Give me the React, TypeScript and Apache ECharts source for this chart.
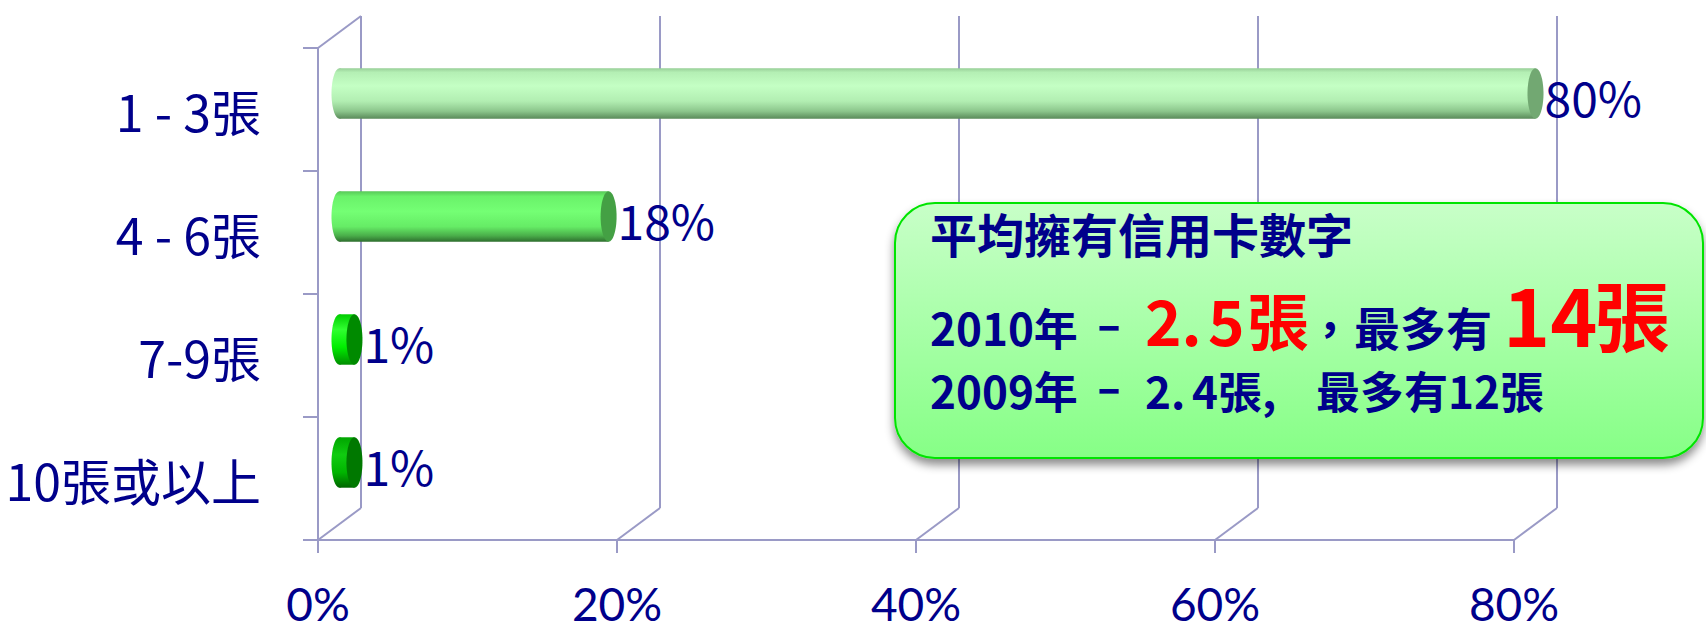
import React, { useEffect, useRef } from "react";
import * as echarts from "echarts";

// ---- data ----
const categories = ["1 - 3張", "4 - 6張", "7-9張", "10張或以上"];
const shares = [80, 18, 1, 1];
const xTicks = [0, 20, 40, 60, 80];
const noteTitle = "平均擁有信用卡數字";
const noteYears = ["2010", "2009"];
const noteAverage = ["2.5", "2.4"];
const noteMaximum = ["14", "12"];

// ---- styles ----
const FONT = '"Noto Sans CJK TC", "Noto Sans", sans-serif';
const NAVY = "#00008b";
const RED = "#ff0000";
const AXIS = "#9a9ac6";
const DX = 43;
const DY = -32;
const BAR_STYLES = [
  {
    stops: [
      [0, "#98cf98"], [0.08, "#b4efb4"], [0.35, "#c4ffc4"], [0.65, "#b2eeb2"], [0.85, "#8cc68c"], [1, "#5a8a5a"],
    ],
    cap: "#72a872",
  },
  {
    stops: [
      [0, "#58c858"], [0.1, "#6af26a"], [0.4, "#74ff74"], [0.7, "#66ec66"], [0.88, "#4aae4a"], [1, "#2e6e2e"],
    ],
    cap: "#44a044",
  },
  {
    stops: [[0, "#00cc00"], [0.3, "#30ff30"], [0.65, "#00ee00"], [1, "#008c00"]],
    cap: "#008a00",
  },
  {
    stops: [[0, "#00a400"], [0.35, "#10cc10"], [0.7, "#00b400"], [1, "#006400"]],
    cap: "#007800",
  },
];

function renderFrame(params: any, api: any) {
  const v = api.value(0);
  const cs = params.coordSys;
  const px = api.coord([v, 0])[0];
  const top = cs.y;
  const bottom = cs.y + cs.height;
  const style = { stroke: AXIS, lineWidth: 2, fill: "none" };
  const children: any[] = [
    { type: "line", shape: { x1: px + DX, y1: top + DY, x2: px + DX, y2: bottom + DY }, style },
    { type: "line", shape: { x1: px + DX, y1: bottom + DY, x2: px, y2: bottom }, style },
  ];
  if (v === 0) {
    children.push({ type: "line", shape: { x1: px, y1: top, x2: px + DX, y2: top + DY }, style });
  }
  return { type: "group", children };
}

function renderBar(params: any, api: any) {
  const idx = params.dataIndex;
  const val = api.value(0);
  const cat = api.value(1);
  const p0 = api.coord([0, cat]);
  const p1 = api.coord([val, cat]);
  const band = api.size([0, 1])[1];
  const h = band * 0.41;
  const cy = p0[1] + DY / 2;
  const x0 = p0[0] + DX / 2;
  const x1 = p1[0] + DX / 2;
  const rx = 8;
  const pal = BAR_STYLES[idx % BAR_STYLES.length];
  const grad = () =>
    new echarts.graphic.LinearGradient(
      0, 0, 0, 1,
      pal.stops.map((s: any) => ({ offset: s[0], color: s[1] }))
    );
  return {
    type: "group",
    children: [
      { type: "ellipse", shape: { cx: x0, cy, rx, ry: h / 2 }, style: { fill: grad() } },
      { type: "rect", shape: { x: x0, y: cy - h / 2, width: x1 - x0, height: h }, style: { fill: grad() } },
      { type: "ellipse", shape: { cx: x1, cy, rx, ry: h / 2 }, style: { fill: pal.cap } },
      {
        type: "text",
        style: {
          text: val + "%",
          x: x1 + rx + 1,
          y: cy + 2,
          align: "left",
          verticalAlign: "middle",
          fill: NAVY,
          fontSize: 48,
          fontFamily: FONT,
        },
      },
    ],
  };
}

// a bold text piece of the note, placed by its left edge and baseline
const piece = (text: string, x: number, baseline: number, size: number, color: string, scaleX = 1) => ({
  type: "text",
  z: 101,
  x,
  y: baseline - 0.43 * size,
  scaleX,
  style: {
    text,
    fill: color,
    fontSize: size,
    fontWeight: "bold",
    fontFamily: FONT,
    verticalAlign: "middle",
  },
});

export default function App() {
  const ref = useRef<HTMLDivElement>(null);
  useEffect(() => {
    document.body.style.margin = "0";
    const chart = echarts.init(ref.current!, null, { renderer: "svg" });
    const [avg10a, avg10b] = noteAverage[0].split(".");
    const [avg09a, avg09b] = noteAverage[1].split(".");
    const B2 = 346;
    const B3 = 409;
    const option: any = {
      animation: false,
      backgroundColor: "#ffffff",
      grid: { left: 318, top: 48, width: 1196, height: 492, containLabel: false },
      xAxis: {
        type: "value",
        min: 0,
        max: 80,
        interval: 20,
        axisLine: { show: true, lineStyle: { color: AXIS, width: 2 } },
        axisTick: { show: true, length: 13, lineStyle: { color: AXIS, width: 2 } },
        splitLine: { show: false },
        axisLabel: {
          formatter: "{value}%",
          fontSize: 46,
          lineHeight: 38,
          fontFamily: "Lato, " + FONT,
          color: NAVY,
          margin: 44,
        },
      },
      yAxis: {
        type: "category",
        data: categories,
        inverse: true,
        boundaryGap: true,
        axisLine: { show: true, lineStyle: { color: AXIS, width: 2 } },
        axisTick: { show: true, length: 15, lineStyle: { color: AXIS, width: 2 } },
        splitLine: { show: false },
        axisLabel: { fontSize: 50, fontFamily: FONT, color: NAVY, margin: 57 },
      },
      series: [
        {
          type: "custom",
          name: "frame",
          renderItem: renderFrame,
          data: xTicks.map((v) => [v, 0]),
          encode: { x: 0, y: 1 },
          z: 1,
          silent: true,
        },
        {
          type: "custom",
          name: "share",
          renderItem: renderBar,
          data: shares.map((v, i) => [v, i]),
          encode: { x: 0, y: 1 },
          z: 5,
        },
      ],
      graphic: [
        {
          type: "rect",
          z: 100,
          shape: { x: 895, y: 203, width: 808, height: 255, r: 40 },
          style: {
            fill: new echarts.graphic.LinearGradient(0, 0, 0, 1, [
              { offset: 0, color: "#c8ffc8" },
              { offset: 1, color: "#86ff86" },
            ]),
            stroke: "#00e400",
            lineWidth: 2,
            shadowBlur: 10,
            shadowOffsetY: 6,
            shadowColor: "rgba(0,0,0,0.45)",
          },
        },
        {
          type: "text",
          z: 101,
          x: 930,
          y: 232,
          style: {
            text: noteTitle,
            fill: NAVY,
            fontSize: 47,
            fontWeight: "bold",
            fontFamily: FONT,
            verticalAlign: "middle",
          },
        },
        // 2010 line
        piece(noteYears[0] + "年", 930, B2, 44, NAVY),
        piece("-", 1096, B2 - 5, 44, NAVY, 1.6),
        piece(avg10a + ".", 1145, B2, 62, RED),
        piece(avg10b, 1208, B2, 62, RED),
        piece("張", 1247, B2, 62, RED),
        piece("，", 1308, B2, 44, NAVY),
        piece("最多有", 1354, B2, 46, NAVY),
        piece(noteMaximum[0], 1503, B2, 80, RED),
        piece("張", 1594, B2, 76, RED),
        // 2009 line
        piece(noteYears[1] + "年", 930, B3, 44, NAVY),
        piece("-", 1096, B3 - 5, 44, NAVY, 1.6),
        piece(avg09a + ".", 1145, B3, 44, NAVY),
        piece(avg09b + "張,", 1192, B3, 44, NAVY),
        piece("最多有" + noteMaximum[1] + "張", 1316, B3, 44, NAVY),
      ],
    };
    chart.setOption(option);
    return () => chart.dispose();
  }, []);
  return <div ref={ref} style={{ width: 1706, height: 632 }} />;
}
